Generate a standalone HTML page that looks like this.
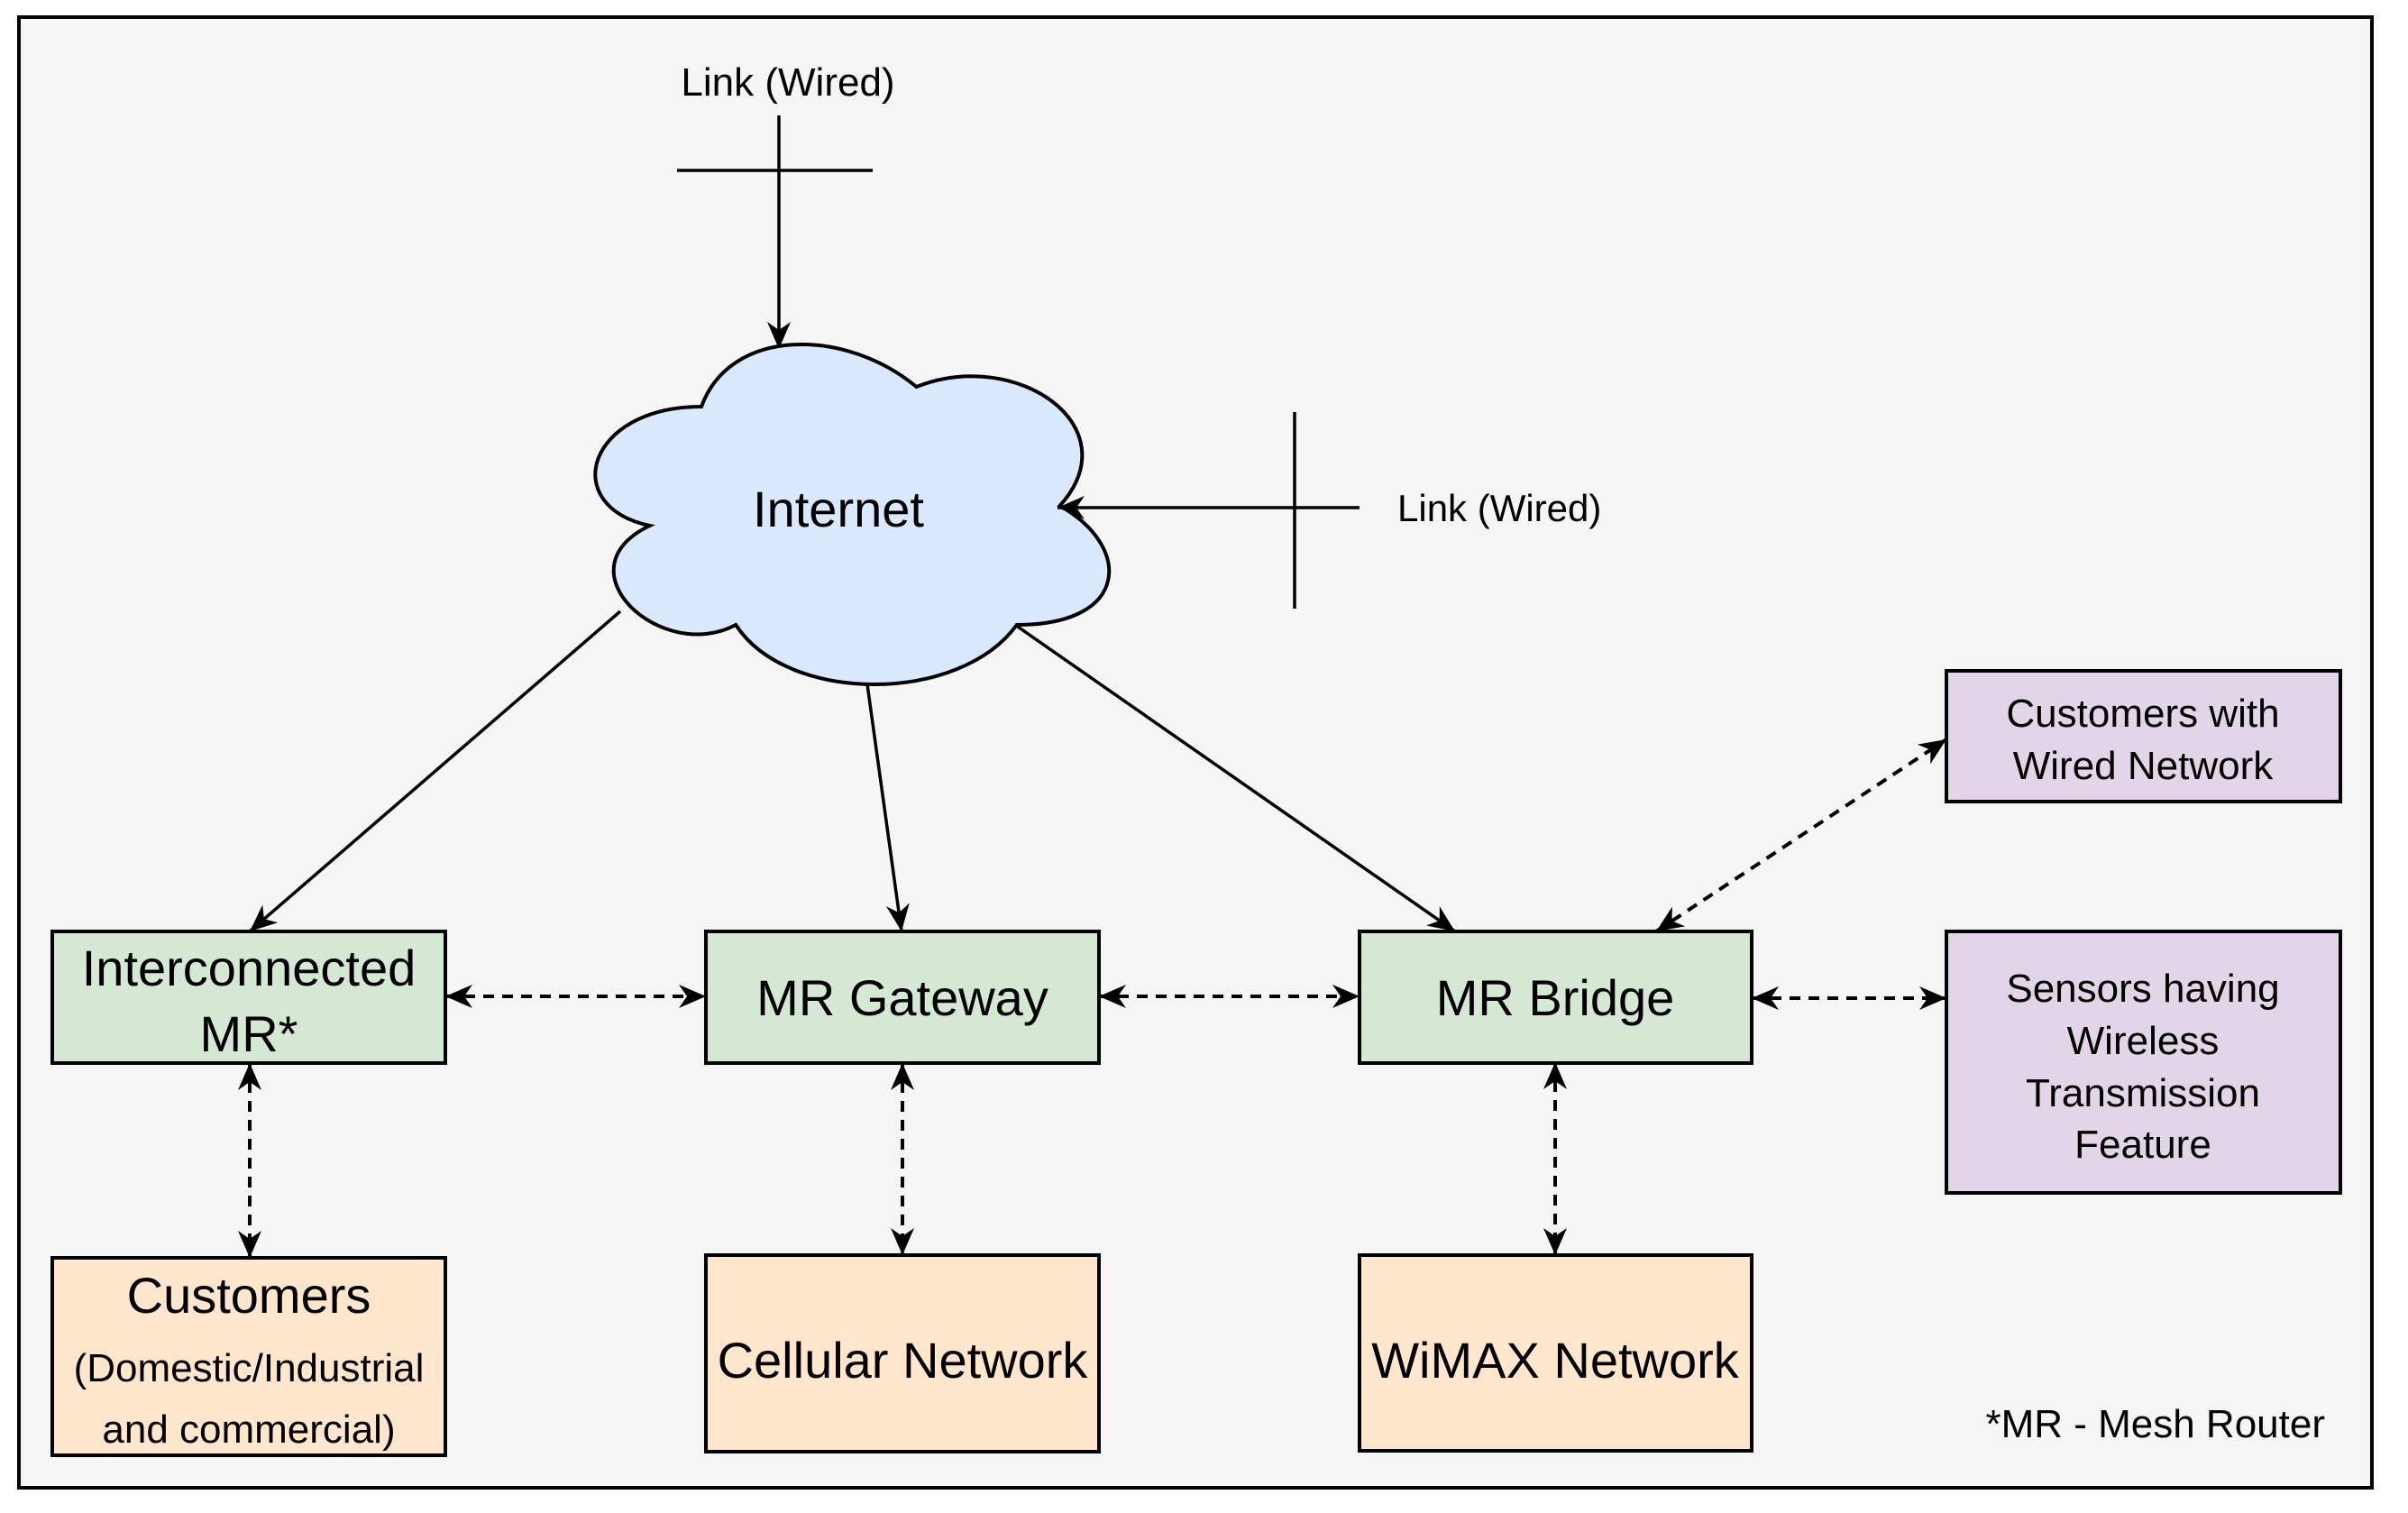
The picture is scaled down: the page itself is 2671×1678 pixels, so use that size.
<!DOCTYPE html>
<html><head><meta charset="utf-8"><style>
html,body{margin:0;padding:0;background:#fff}
svg{display:block}
text{font-family:"Liberation Sans",Arial,Helvetica,sans-serif;fill:#000}
</style></head><body>
<svg width="2671" height="1678" viewBox="0 0 2671 1678" xmlns="http://www.w3.org/2000/svg" font-family="Liberation Sans, Arial, sans-serif">
<defs>
<marker id="a" markerWidth="30" markerHeight="26" refX="10" refY="5" orient="auto-start-reverse" markerUnits="userSpaceOnUse" viewBox="0 0 10 10" preserveAspectRatio="none">
<path d="M0,0 L10,5 L0,10 L3,5 Z" fill="#000"/>
</marker>
</defs>
<rect x="21" y="19" width="2610" height="1631" fill="#f5f5f5" stroke="#000" stroke-width="4"/>

<text x="874" y="106" font-size="44" text-anchor="middle" font-family="Liberation Sans, Arial, sans-serif">Link (Wired)</text>
<line x1="751" y1="189" x2="968" y2="189" stroke="#000" stroke-width="3.5"/>
<line x1="864" y1="128" x2="864" y2="387" stroke="#000" stroke-width="3.5" style="marker-end:url(#a)"/>

<g transform="translate(619,341) scale(636,440)">
<path d="M0.25,0.25 C0.05,0.25 0,0.5 0.16,0.55 C0,0.66 0.18,0.9 0.31,0.8 C0.4,1 0.7,1 0.8,0.8 C1,0.8 1,0.6 0.875,0.5 C1,0.3 0.8,0.1 0.625,0.2 C0.5,0.05 0.3,0.05 0.25,0.25 Z" fill="#dae8fc" stroke="#000" stroke-width="4" vector-effect="non-scaling-stroke"/>
</g>
<text x="930" y="584" font-size="56" text-anchor="middle" font-family="Liberation Sans, Arial, sans-serif">Internet</text>

<line x1="1508" y1="563" x2="1173" y2="563" stroke="#000" stroke-width="3.5" style="marker-end:url(#a)"/>
<line x1="1436" y1="457" x2="1436" y2="675" stroke="#000" stroke-width="3.5"/>
<text x="1550" y="578" font-size="42" font-family="Liberation Sans, Arial, sans-serif">Link (Wired)</text>

<g stroke="#000" stroke-width="3.5" fill="none">
<line x1="688" y1="678" x2="277" y2="1033" style="marker-end:url(#a)"/>
<line x1="962" y1="759" x2="1000" y2="1033" style="marker-end:url(#a)"/>
<line x1="1126" y1="693" x2="1614" y2="1033" style="marker-end:url(#a)"/>
</g>

<g stroke="#000" stroke-width="4">
<rect x="58" y="1033" width="436" height="146" fill="#d5e8d4"/>
<rect x="783" y="1033" width="436" height="146" fill="#d5e8d4"/>
<rect x="1508" y="1033" width="435" height="146" fill="#d5e8d4"/>
<rect x="2159" y="744" width="437" height="145" fill="#e1d5e7"/>
<rect x="2159" y="1033" width="437" height="290" fill="#e1d5e7"/>
<rect x="58" y="1395" width="436" height="219" fill="#ffe6cc"/>
<rect x="783" y="1392" width="436" height="218" fill="#ffe6cc"/>
<rect x="1508" y="1392" width="435" height="217" fill="#ffe6cc"/>
</g>

<g stroke="#000" stroke-width="4" stroke-dasharray="12,9" fill="none">
<line x1="494" y1="1105" x2="783" y2="1105" style="marker-start:url(#a);marker-end:url(#a)"/>
<line x1="1219" y1="1105" x2="1508" y2="1105" style="marker-start:url(#a);marker-end:url(#a)"/>
<line x1="1943" y1="1107" x2="2159" y2="1107" style="marker-start:url(#a);marker-end:url(#a)"/>
<line x1="1837" y1="1033" x2="2159" y2="820" style="marker-start:url(#a);marker-end:url(#a)"/>
<line x1="277" y1="1179" x2="277" y2="1395" style="marker-start:url(#a);marker-end:url(#a)"/>
<line x1="1001" y1="1179" x2="1001" y2="1392" style="marker-start:url(#a);marker-end:url(#a)"/>
<line x1="1725" y1="1178" x2="1725" y2="1392" style="marker-start:url(#a);marker-end:url(#a)"/>
</g>

<g text-anchor="middle" font-family="Liberation Sans, Arial, sans-serif">
<text x="276" y="1093" font-size="56">Interconnected</text>
<text x="276" y="1166" font-size="56">MR*</text>
<text x="1001" y="1126" font-size="56">MR Gateway</text>
<text x="1725" y="1126" font-size="56">MR Bridge</text>
<text x="2377" y="806" font-size="44">Customers with</text>
<text x="2377" y="864" font-size="44">Wired Network</text>
<text x="2377" y="1111" font-size="44">Sensors having</text>
<text x="2377" y="1169" font-size="44">Wireless</text>
<text x="2377" y="1227" font-size="44">Transmission</text>
<text x="2377" y="1284" font-size="44">Feature</text>
<text x="276" y="1456" font-size="56">Customers</text>
<text x="276" y="1532" font-size="44">(Domestic/Industrial</text>
<text x="276" y="1600" font-size="44">and commercial)</text>
<text x="1001" y="1528" font-size="56">Cellular Network</text>
<text x="1725" y="1528" font-size="56">WiMAX Network</text>
</g>
<text x="2579" y="1594" font-size="44" text-anchor="end" font-family="Liberation Sans, Arial, sans-serif">*MR - Mesh Router</text>
</svg>
</body></html>
